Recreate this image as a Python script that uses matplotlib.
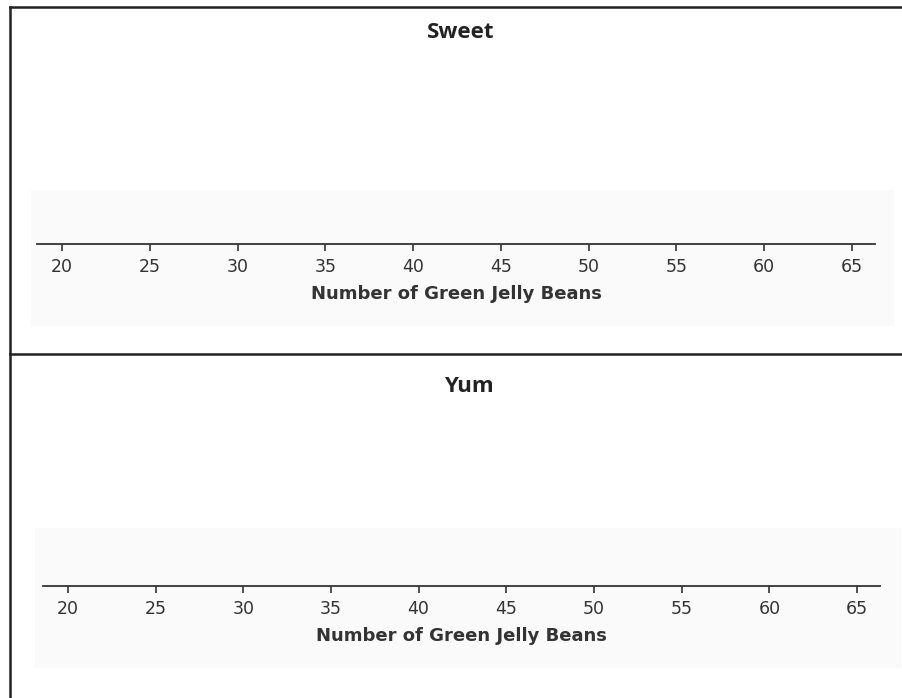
import matplotlib
matplotlib.use("Agg")
import matplotlib.pyplot as plt
from matplotlib.patches import Rectangle
from matplotlib.lines import Line2D

# dot plots with no dots yet
panels = ["Sweet", "Yum"]
sweet_values = []
yum_values = []
tick_values = [20, 25, 30, 35, 40, 45, 50, 55, 60, 65]
x_label = "Number of Green Jelly Beans"

W, H = 902, 698
fig = plt.figure(figsize=(W / 100, H / 100), dpi=100)
fig.patch.set_facecolor("white")

def fx(px):
    return px / W

def fy(py):
    return 1 - py / H

# faint gray panel backgrounds
fig.patches.append(Rectangle((fx(31), fy(325)), fx(893 - 31), (325 - 190) / H,
                             transform=fig.transFigure, color="#fafafa", zorder=-5))
fig.patches.append(Rectangle((fx(35), fy(667)), fx(900 - 35), (667 - 528) / H,
                             transform=fig.transFigure, color="#fafafa", zorder=-5))

# frame lines
fig.lines.append(Line2D([fx(10), 1], [fy(7), fy(7)], transform=fig.transFigure, color="#222222", lw=1.8))
fig.lines.append(Line2D([fx(10), fx(10)], [fy(7), 0], transform=fig.transFigure, color="#222222", lw=1.8))
fig.lines.append(Line2D([fx(10), 1], [fy(354), fy(354)], transform=fig.transFigure, color="#222222", lw=1.8))

# axes: (left px, right px, spine y px, title y px, title x px)
layout = [(37, 875, 244, 33, 461), (43, 880, 586, 386, 469)]
data = [sweet_values, yum_values]

for name, vals, (l, r, sy, ty, tx) in zip(panels, data, layout):
    ax = fig.add_axes([fx(l), fy(sy), fx(r - l), 0.15])
    ax.set_facecolor("none")
    ax.scatter(vals, [0.1] * len(vals), color="#333333")
    ax.set_xlim(18.58, 66.31)
    ax.set_ylim(0, 1)
    for s in ["top", "left", "right"]:
        ax.spines[s].set_visible(False)
    ax.spines["bottom"].set_color("#333333")
    ax.spines["bottom"].set_linewidth(1.3)
    ax.set_yticks([])
    ax.set_xticks(tick_values)
    ax.tick_params(axis="x", direction="out", length=5, width=1.2, color="#333333",
                   labelsize=12.5, labelcolor="#333333", pad=5)
    ax.set_xlabel(x_label, fontsize=13, fontweight="bold", color="#333333", labelpad=6.5)
    fig.text(fx(tx), fy(ty), name, ha="center", va="center", fontsize=16,
             fontweight="bold", family="Open Sans", color="#222222")

fig.savefig("out.png", dpi=100)
